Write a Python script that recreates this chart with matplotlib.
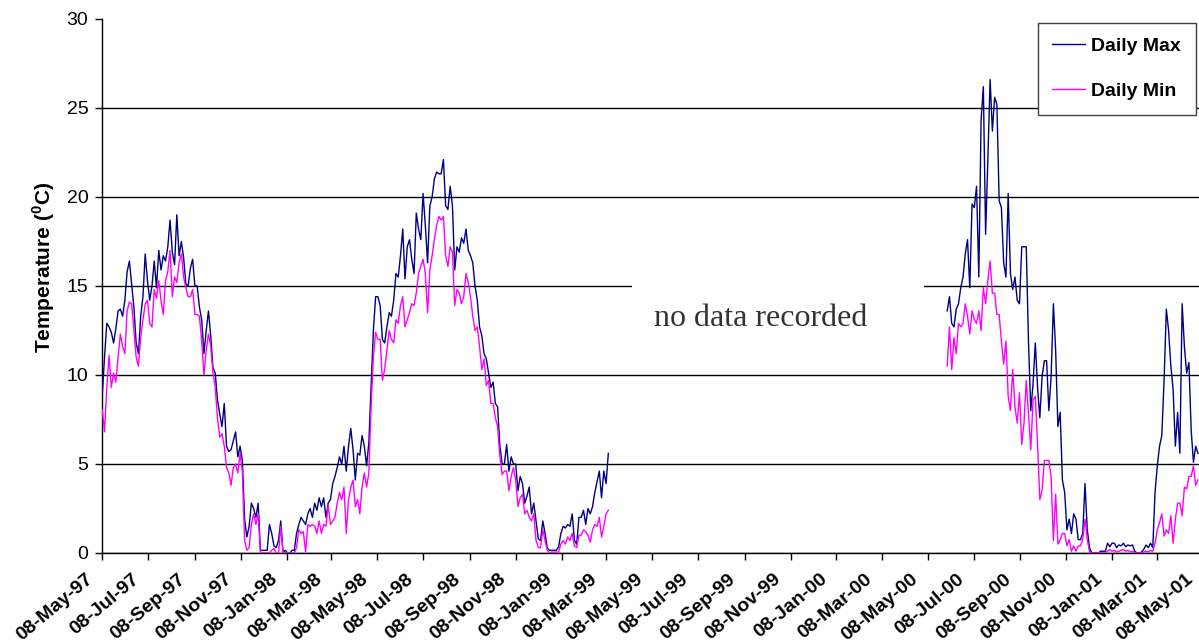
import numpy as np
import pandas as pd
import matplotlib
matplotlib.use("Agg")
import matplotlib.pyplot as plt
import matplotlib.dates as mdates
import matplotlib.transforms as mtransforms
from matplotlib.patches import Rectangle

plt.rcParams['font.family'] = ['Liberation Sans', 'DejaVu Sans']
plt.rcParams['mathtext.fontset'] = 'custom'
plt.rcParams['mathtext.rm'] = 'Liberation Sans:bold'
plt.rcParams['mathtext.bf'] = 'Liberation Sans:bold'

# readings taken every 3 days, counted from 08-May-97
start = pd.Timestamp('1997-05-08')
seg1_days = np.arange(0, 673, 3)
seg2_days = np.arange(1122, 1456, 3)

max1 = [8.9, 11.0, 12.9, 12.7, 12.4, 11.8, 12.6, 13.6, 13.7, 13.3, 14.2, 15.8, 16.4, 15.1, 13.8, 11.8,
        11.2, 13.3, 14.4, 16.8, 15.3, 14.2, 15.0, 16.4, 14.9, 17.0, 15.9, 16.7, 16.4, 17.2, 18.7, 16.9,
        16.2, 19.0, 16.7, 17.5, 16.6, 15.1, 15.0, 16.0, 16.5, 15.0, 15.0, 13.8, 13.1, 11.2, 12.5, 13.6,
        12.2, 10.4, 10.1, 8.6, 7.8, 7.1, 8.4, 6.0, 5.7,
        5.8, 6.3, 6.8, 5.4, 6.0, 5.2, 1.9, 0.9, 1.5, 2.8, 2.5, 2.0, 2.8, 0.15, 0.15, 0.15, 0.15, 1.6,
        1.1, 0.4, 0.3, 0.7, 1.8, 0.05, 0.15, 0.0, 0.0, 0.15, 0.15, 1.1, 1.6, 2.0, 1.8, 1.6, 2.2, 2.5,
        2.0, 2.8, 2.4, 3.1, 2.6, 3.1, 2.0, 2.8, 3.0, 3.9, 4.3, 4.8, 5.4, 5.0, 6.0, 4.6, 6.0, 7.0, 5.8,
        4.1, 5.6,
        5.5, 6.6, 6.0, 4.9, 6.2, 9.4, 12.5, 14.4, 14.4, 13.9, 12.0, 11.8, 12.7, 13.5, 13.3, 14.2, 15.7,
        15.5, 16.7, 18.2, 15.4, 17.2, 17.6, 16.5, 15.7, 19.1, 18.2, 17.6, 20.2, 18.4, 16.3, 19.5, 20.0,
        21.0, 21.4, 21.3, 21.3, 22.1, 19.5, 19.3, 20.6, 19.5, 15.9, 17.2, 16.9, 17.7, 17.4, 18.2, 17.0,
        16.7, 16.3, 15.0, 14.2, 12.7, 12.2, 11.2, 10.9, 10.1,
        9.3, 9.6, 8.4, 8.2, 6.0, 5.0, 5.0, 6.1, 4.6, 5.4, 5.0, 5.0, 3.5, 4.3, 3.9, 2.8, 3.2, 3.7, 2.2,
        2.8, 1.8, 0.8, 0.7, 1.8, 1.1, 0.25, 0.15, 0.15, 0.15, 0.15, 0.35, 1.1, 1.5, 1.4, 1.6, 1.5, 2.2,
        0.7, 0.5, 2.0, 2.0, 2.4, 1.6, 2.5, 2.2, 2.6, 3.4, 4.0, 4.6, 3.1, 4.6, 3.9, 5.6]

min1 = [8.05, 6.8, 9.3, 11.1, 9.3, 10.1, 9.6, 11.0, 12.3, 11.6, 11.2, 13.6, 14.1, 14.0, 12.5, 11.0,
        10.5, 12.1, 13.1, 14.0, 14.2, 12.9, 12.7, 14.8, 14.3, 15.3, 14.2, 13.4, 15.3, 15.8, 17.0, 14.4,
        15.5, 15.2, 16.3, 16.8, 15.5, 14.9, 14.4, 14.4, 14.8, 13.4, 13.4, 13.3, 11.9, 10.0, 11.4, 12.3,
        11.6, 10.1, 9.3, 7.6, 6.5, 6.7, 6.0, 4.8, 4.5,
        3.8, 4.8, 5.0, 4.5, 5.6, 4.6, 0.7, 0.15, 0.3, 1.6, 2.2, 1.6, 2.2, 0.0, 0.0, 0.0, 0.0, 0.0, 0.15,
        0.25, 0.0, 0.0, 1.5, 0.0, 0.0, 0.0, 0.0, 0.0, 0.0, 0.3, 1.3, 1.1, 1.2, 0.05, 1.6, 1.5, 1.6, 1.5,
        1.1, 1.8, 1.1, 1.6, 1.5, 2.7, 1.6, 1.8, 2.0, 2.8, 3.4, 3.0, 3.7, 1.1, 3.0, 3.7, 4.1, 2.6, 3.0,
        2.2, 3.7, 4.5, 3.7, 4.5, 8.2, 11.0, 12.4, 12.0, 12.0, 9.7, 10.3, 11.4, 12.5, 12.0, 11.8, 13.1,
        12.9, 13.9, 14.4, 12.7, 13.1, 13.5, 14.0, 13.9, 14.6, 15.7, 16.1, 16.5, 15.7, 13.5, 15.9, 16.7,
        17.6, 18.4, 18.9, 18.7, 18.9, 16.7, 16.1, 17.2, 16.9, 13.9, 14.8, 14.6, 14.0, 14.4, 15.7, 15.2,
        14.4, 13.3, 12.5, 12.7, 11.6, 10.3, 10.9, 9.4, 9.7,
        8.4, 8.4, 7.6, 7.1, 5.4, 4.4, 4.6, 4.6, 3.5, 4.3, 4.8, 4.1, 2.6, 3.1, 3.3, 2.2, 2.4, 2.0, 1.8,
        2.2, 0.7, 0.3, 0.3, 1.3, 0.7, 0.15, 0.0, 0.05, 0.05, 0.05, 0.05, 0.5, 0.7, 0.5, 0.9, 0.7, 1.1,
        0.4, 0.3, 1.0, 1.0, 1.3, 1.2, 1.0, 0.6, 1.3, 1.6, 1.5, 2.0, 0.9, 1.5, 2.2, 2.4]

max2 = [13.6, 14.4, 12.9, 12.7, 13.7, 14.0, 14.9, 15.5, 16.8, 17.6, 14.9, 19.6, 19.4, 20.6, 15.5, 24.3,
        26.2, 17.9, 22.1, 26.6, 23.7, 25.6, 25.2, 19.8, 19.4, 16.3, 15.5, 20.2, 15.7, 14.8, 15.5, 14.2,
        14.0, 17.2, 17.2, 17.2, 11.8, 8.0, 9.5, 11.8, 9.3, 7.6, 9.9, 10.8, 10.8, 8.0, 9.9, 14.0, 11.4,
        7.1,
        7.9, 4.1, 3.4, 1.3, 1.9, 1.1, 2.2, 1.9, 0.75, 0.75, 1.1, 3.9, 1.3, 0.3, 0.0, 0.0, 0.0, 0.0, 0.1,
        0.1, 0.1, 0.55, 0.35, 0.55, 0.55, 0.3, 0.45, 0.4, 0.55, 0.35, 0.45, 0.4, 0.45, 0.1, 0.0, 0.0,
        0.05, 0.2, 0.45, 0.3, 0.55, 0.3, 3.4, 4.9, 6.0, 6.6, 9.7, 13.7, 12.5, 10.5, 9.2, 6.0, 7.9, 5.6,
        14.0, 11.6, 10.1, 10.7, 6.9, 5.1, 6.0, 5.6]

min2 = [10.5, 12.7, 10.3, 12.1, 11.2, 12.9, 12.7, 12.9, 14.0, 13.3, 12.3, 13.6, 13.1, 12.9, 13.6, 12.5,
        14.9, 14.0, 15.3, 16.4, 14.6, 14.6, 13.4, 13.4, 11.9, 10.6, 11.9, 8.8, 8.0, 10.3, 8.2, 7.3, 9.0,
        6.1, 7.3, 9.7, 7.8, 5.8, 8.6, 8.8, 6.1, 3.0, 3.5, 5.2, 5.2, 5.2, 4.3, 0.7, 3.3, 0.5,
        0.75, 1.1, 1.1, 0.4, 0.75, 0.1, 0.4, 0.1, 0.4, 0.4, 0.75, 1.9, 0.75, 0.05, 0.0, 0.0, 0.0, 0.0,
        0.0, 0.0, 0.0, 0.1, 0.2, 0.1, 0.15, 0.05, 0.1, 0.15, 0.2, 0.1, 0.15, 0.05, 0.1, 0.0, 0.0, 0.0,
        0.0, 0.05, 0.1, 0.05, 0.15, 0.1, 0.55, 1.3, 1.7, 2.2, 0.95, 1.3, 1.1, 2.1, 0.55, 1.9, 2.8, 2.8,
        2.1, 3.7, 3.6, 4.3, 4.3, 4.9, 3.8, 4.1]

x1 = start + pd.to_timedelta(seg1_days, unit='D')
x2 = start + pd.to_timedelta(seg2_days, unit='D')

max_col = '#000080'
min_col = '#FF00FF'

fig = plt.figure(figsize=(11.99, 6.43), dpi=100)
ax = fig.add_axes([0.0853, 0.140, 0.9176, 0.8305])

ax.plot(x1, max1, color=max_col, lw=1.0, label='Daily Max', zorder=3)
ax.plot(x2, max2, color=max_col, lw=1.0, zorder=3)
ax.plot(x1, min1, color=min_col, lw=1.0, label='Daily Min', zorder=4)
ax.plot(x2, min2, color=min_col, lw=1.0, zorder=4)

ax.set_ylim(0, 30)
ax.set_yticks(range(0, 31, 5))
ax.set_xlim(start, pd.Timestamp('2001-05-08'))

ticks = pd.date_range('1997-05-08', '2001-05-08', freq=pd.DateOffset(months=2))
ax.set_xticks(ticks)
ax.set_xticklabels([t.strftime('%d-%b-%y') for t in ticks], rotation=40, ha='right',
                   rotation_mode='anchor', fontweight='bold', fontsize=14)
ax.tick_params(axis='y', labelsize=14, length=5, width=1, pad=5)
ax.tick_params(axis='x', length=5, width=1, pad=4)
# Excel puts the slanted labels a little lower and to the left of the tick
shift = mtransforms.ScaledTranslation(-0.17, -0.05, fig.dpi_scale_trans)
for lab in ax.get_xticklabels():
    lab.set_transform(lab.get_transform() + shift)

ax.yaxis.grid(True, color='black', lw=1.0)
ax.get_ygridlines()[-1].set_visible(False)
ax.set_axisbelow(True)
for s in ['top', 'right']:
    ax.spines[s].set_visible(False)
for s in ['left', 'bottom']:
    ax.spines[s].set_linewidth(1.0)

ax.set_ylabel(r'Temperature ($^{\mathbf{0}}$C)', fontsize=15, fontweight='bold')
ax.yaxis.set_label_coords(-0.041, 0.534)

# blank panel over the gap, with the note
gap_l = mdates.date2num(pd.Timestamp('1999-04-12'))
gap_r = mdates.date2num(pd.Timestamp('2000-05-03'))
ax.add_patch(Rectangle((gap_l, 11.0), gap_r - gap_l, 5.2, facecolor='white',
                       edgecolor='none', zorder=2))
ax.text(pd.Timestamp('1999-09-29'), 13.2, 'no data recorded', family='Liberation Serif',
        fontsize=23, color='#333333', ha='center', va='center', zorder=5)

leg = ax.legend(loc='upper right', bbox_to_anchor=(0.9938, 0.9925), borderaxespad=0,
                prop={'weight': 'bold', 'size': 14}, frameon=True, fancybox=False,
                framealpha=1, edgecolor='#404040', borderpad=0.75, labelspacing=1.4,
                handlelength=1.7, handletextpad=0.3)
leg.get_frame().set_linewidth(1.0)
leg.set_zorder(10)

fig.savefig('out.png', dpi=100)
